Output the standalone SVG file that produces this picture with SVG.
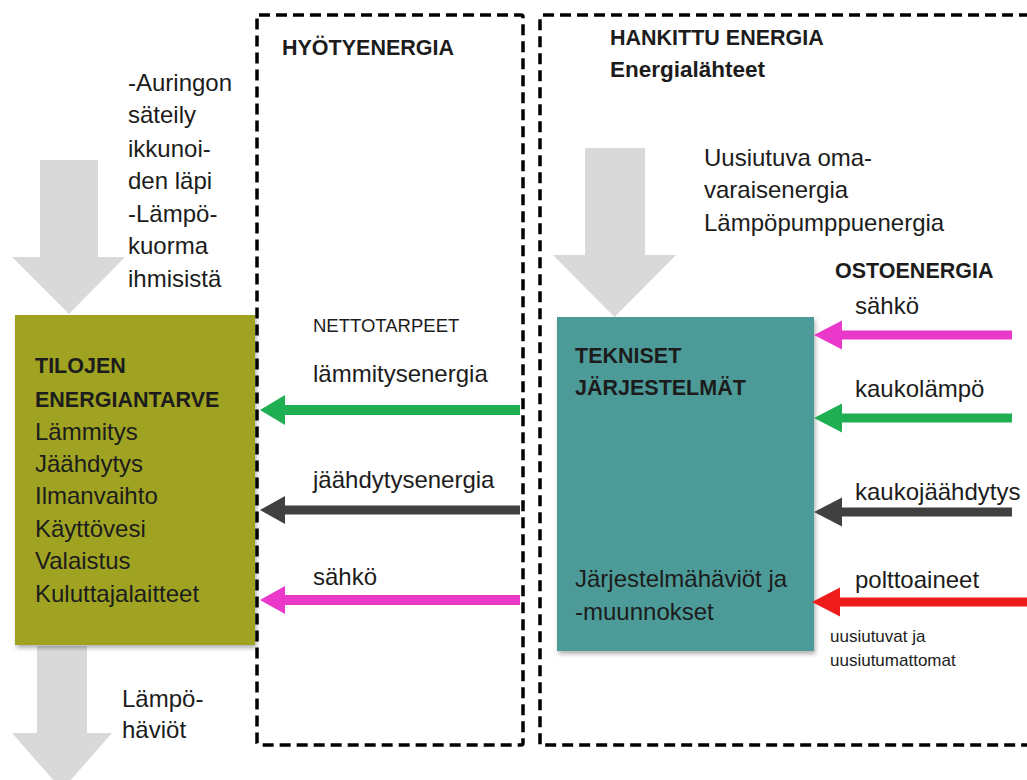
<svg xmlns="http://www.w3.org/2000/svg" width="1027" height="780" viewBox="0 0 1027 780">
<defs>
<style>
text{font-family:"Liberation Sans",Arial,sans-serif;fill:#1c1c1c}
.t{font-size:24px}
.b{font-size:21.5px;font-weight:bold}
.s{font-size:17px}
.dash{fill:none;stroke:#000;stroke-width:3.5;stroke-dasharray:11 6}
.grey{fill:#d9d9d9}
</style>
<filter id="sh" x="-5%" y="-5%" width="115%" height="115%">
<feDropShadow dx="1.5" dy="3" stdDeviation="2" flood-color="#000" flood-opacity="0.3"/>
</filter>
</defs>
<rect width="1027" height="780" fill="#fff"/>

<g id="frame-hyotyenergia">
<rect class="dash" x="257" y="15" width="266" height="730" rx="2"/>
<text class="b" x="282" y="55">HYÖTYENERGIA</text>
<text x="313" y="332" style="font-size:18.5px">NETTOTARPEET</text>
</g>

<g id="frame-hankittu">
<path class="dash" d="M1030,15 H542 Q540,15 540,17 V745 H1030"/>
<text class="b" x="610" y="45">HANKITTU ENERGIA</text>
<text class="b" x="610" y="77" style="font-size:22.5px">Energialähteet</text>
</g>

<g id="sun-input">
<polygon class="grey" points="40,160 98,160 98,257 125,257 69,314 12,257 40,257"/>
<text class="t" x="128" y="91">-Auringon</text>
<text class="t" x="128" y="123">säteily</text>
<text class="t" x="128" y="157">ikkunoi-</text>
<text class="t" x="128" y="189">den läpi</text>
<text class="t" x="128" y="222">-Lämpö-</text>
<text class="t" x="128" y="254">kuorma</text>
<text class="t" x="128" y="287">ihmisistä</text>
</g>

<g id="heat-loss">
<polygon class="grey" points="37,646 87,646 87,733 112,733 62,790 12,733 37,733"/>
<text class="t" x="122" y="707">Lämpö-</text>
<text class="t" x="122" y="738">häviöt</text>
</g>

<g id="own-energy">
<polygon class="grey" points="585,148 645,148 645,255 676,255 614.5,317 553,255 585,255"/>
<text class="t" x="704" y="166">Uusiutuva oma-</text>
<text class="t" x="704" y="198">varaisenergia</text>
<text class="t" x="704" y="231">Lämpöpumppuenergia</text>
</g>

<g id="tilojen">
<rect x="15" y="315" width="240" height="330" fill="#a0a324" filter="url(#sh)"/>
<text class="b" x="35" y="373">TILOJEN</text>
<text class="b" x="35" y="407">ENERGIANTARVE</text>
<text class="t" x="35" y="440">Lämmitys</text>
<text class="t" x="35" y="472">Jäähdytys</text>
<text class="t" x="35" y="504">Ilmanvaihto</text>
<text class="t" x="35" y="537">Käyttövesi</text>
<text class="t" x="35" y="569">Valaistus</text>
<text class="t" x="35" y="602">Kuluttajalaitteet</text>
</g>

<g id="tekniset">
<rect x="557" y="317" width="257" height="334" fill="#4e9b98" filter="url(#sh)"/>
<text class="b" x="575" y="363">TEKNISET</text>
<text class="b" x="575" y="395">JÄRJESTELMÄT</text>
<text class="t" x="575" y="587">Järjestelmähäviöt ja</text>
<text class="t" x="575" y="620">-muunnokset</text>
</g>

<g id="ostoenergia">
<text class="b" x="835" y="278">OSTOENERGIA</text>
<text class="t" x="855" y="314">sähkö</text>
<text class="t" x="855" y="397">kaukolämpö</text>
<text class="t" x="855" y="500">kaukojäähdytys</text>
<text class="t" x="855" y="588">polttoaineet</text>
<text class="s" x="830" y="642">uusiutuvat ja</text>
<text class="s" x="830" y="666">uusiutumattomat</text>
</g>

<g id="net-labels">
<text class="t" x="313" y="382">lämmitysenergia</text>
<text class="t" x="313" y="488">jäähdytysenergia</text>
<text class="t" x="313" y="585">sähkö</text>
</g>

<g id="connectors">
<polygon fill="#1fae52" points="260,410 285,395 285,405 520,405 520,415 285,415 285,425"/>
<polygon fill="#404040" points="260,510 285,496 285,505.5 520,505.5 520,514.5 285,514.5 285,524"/>
<polygon fill="#ea38cb" points="260,600 285,586 285,595 520,595 520,605 285,605 285,614"/>
<polygon fill="#ea38cb" points="814,335 842,320.5 842,330.5 1012,330.5 1012,339.5 842,339.5 842,349.5"/>
<polygon fill="#1fae52" points="814,418 842,403.5 842,413.5 1012,413.5 1012,422.5 842,422.5 842,432.5"/>
<polygon fill="#404040" points="814,512 842,497.5 842,507.5 1012,507.5 1012,516.5 842,516.5 842,526.5"/>
<polygon fill="#ee1b1b" points="812,602 840,587.5 840,597.5 1027,597.5 1027,606.5 840,606.5 840,616.5"/>
</g>
</svg>
